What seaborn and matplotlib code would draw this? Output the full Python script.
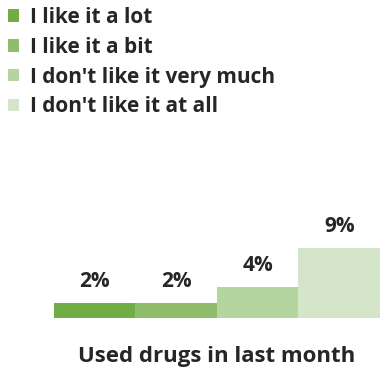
import matplotlib
matplotlib.use("Agg")
import matplotlib.pyplot as plt
import seaborn as sns
import pandas as pd
from matplotlib.patches import Patch

# data
categories = ["I like it a lot", "I like it a bit", "I don't like it very much", "I don't like it at all"]
values = [2, 2, 4, 9]
colors = ["#70AD47", "#8FBD6C", "#B4D4A0", "#D4E5C9"]
xlabel = "Used drugs in last month"

sns.set_style("white")
plt.rcParams['font.family'] = ['Open Sans', 'DejaVu Sans']
text_col = "#262626"

df = pd.DataFrame({"cat": categories, "val": values})

fig = plt.figure(figsize=(3.8, 3.7), dpi=100)
ax = fig.add_axes([0.142, 0.14, 0.858, 0.86])

sns.barplot(data=df, x="cat", y="val", hue="cat", palette=colors, width=1.0,
            legend=False, ax=ax, saturation=1, linewidth=0)

for i, v in enumerate(values):
    ax.text(i, v + 1.4, f"{v}%", ha="center", va="bottom", fontsize=15,
            fontweight="bold", color=text_col)

ax.set_ylim(0, 40.9)
ax.set_xlim(-0.5, 3.5)
ax.set_xticks([])
ax.set_yticks([])
ax.set_ylabel("")
ax.set_xlabel("")
sns.despine(ax=ax, left=True, bottom=True)

fig.text(0.569, 0.036, xlabel, ha="center", va="center", fontsize=16,
         fontweight="bold", color=text_col)

handles = [Patch(facecolor=c, edgecolor="none") for c in colors]
leg = fig.legend(handles, categories, loc="upper left",
                 bbox_to_anchor=(8 / 380, 1 - 7 / 370),
                 borderaxespad=0, borderpad=0,
                 frameon=False, handlelength=0.55, handleheight=0.55, handletextpad=0.5,
                 labelspacing=0.42, prop={"size": 15, "weight": "bold"})
for t in leg.get_texts():
    t.set_color(text_col)

fig.savefig("out.png", dpi=100)
